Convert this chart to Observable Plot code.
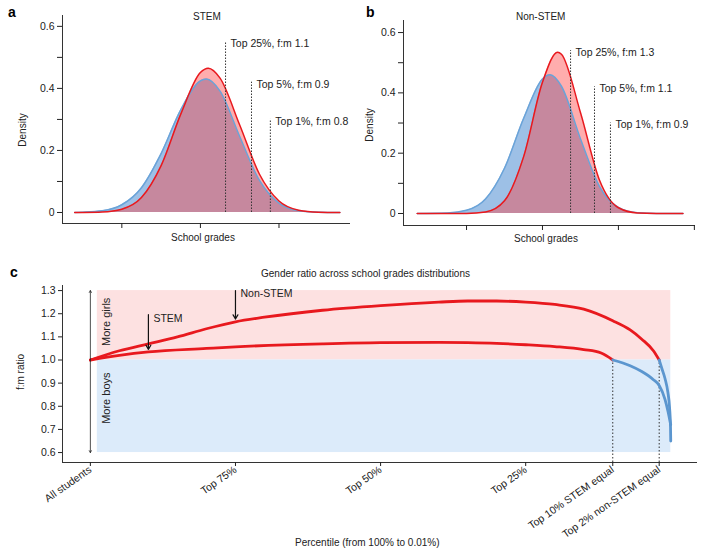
<!DOCTYPE html>
<html><head><meta charset="utf-8">
<script src="https://cdn.jsdelivr.net/npm/d3@7"></script>
<script src="https://cdn.jsdelivr.net/npm/@observablehq/plot@0.6"></script>
<style>
body{margin:0;background:#fff;font-family:"Liberation Sans",Arial,sans-serif;}
#wrap{position:relative;width:717px;height:551px;}
.p{position:absolute;}
.lbl{position:absolute;font-size:10px;color:#222;white-space:nowrap;}
.big{font-weight:bold;font-size:14px;color:#000;}
</style></head><body><div id="wrap"></div>
<script>
// Panel a (STEM) densities
const gradeX_stemGirls = [-3.2,-3,-2.5,-2,-1.5,-1,-0.5,0,0.2,0.5,1,1.5,2,2.5,3,3.55];
const dens_stemGirls   = [0,0.0002,0.0016,0.0106,0.048,0.151,0.317,0.451,0.465,0.433,0.282,0.124,0.037,0.0075,0.001,0];
const gradeX_stemBoys  = [-3.2,-3,-2.5,-2,-1.5,-1,-0.5,0,0.15,0.5,1,1.5,2,2.5,3,3.55];
const dens_stemBoys    = [0,0.001,0.0056,0.025,0.080,0.19,0.331,0.424,0.43,0.391,0.245,0.104,0.030,0.0057,0.0007,0];
// Panel b (Non-STEM) densities
const gradeX_nsGirls = [-3.3,-2.5,-2,-1.5,-1,-0.5,0,0.4,0.5,1,1.5,2,2.5,3,3.7];
const dens_nsGirls   = [0,0,0.0003,0.0049,0.042,0.187,0.435,0.535,0.528,0.335,0.111,0.019,0.0017,0.0001,0];
const gradeX_nsBoys  = [-3.3,-2.5,-2,-1.5,-1,-0.5,0,0.2,0.5,1,1.5,2,2.5,3,3.7];
const dens_nsBoys    = [0,0.0016,0.0105,0.048,0.150,0.314,0.446,0.46,0.422,0.248,0.090,0.020,0.0028,0.0003,0];
// threshold annotations
const stemCutX = [0.64,1.3,1.78], stemCutTop=[0.55,0.42,0.30], stemCutLabel=["Top 25%, f:m 1.1","Top 5%, f:m 0.9","Top 1%, f:m 0.8"];
const nsCutX = [0.74,1.37,1.79], nsCutTop=[0.54,0.42,0.30], nsCutLabel=["Top 25%, f:m 1.3","Top 5%, f:m 1.1","Top 1%, f:m 0.9"];
// Panel c ratios
const nsRedPct   = [100,95,90,85,80,75,70,60,50,40,35,30,25,20,15,10,7,5,3,2];
const nsRedRatio = [1.0,1.04,1.07,1.10,1.135,1.165,1.185,1.215,1.235,1.25,1.255,1.255,1.25,1.24,1.22,1.17,1.13,1.09,1.04,1.0];
const nsBluePct   = [2,1.5,1,0.5,0.2,0.05,0.01];
const nsBlueRatio = [1.0,0.96,0.92,0.86,0.79,0.71,0.65];
const stRedPct   = [100,95,90,80,75,60,50,40,35,30,25,20,15,12,10];
const stRedRatio = [1.0,1.02,1.035,1.05,1.057,1.07,1.075,1.076,1.075,1.072,1.066,1.058,1.045,1.03,1.0];
const stBluePct   = [10,7,5,3,2,1,0.5,0.01];
const stBlueRatio = [1.0,0.975,0.95,0.915,0.89,0.83,0.78,0.72];
const pctTicks = [100,75,50,25,10,2];
const pctTickLabels = ["All students","Top 75%","Top 50%","Top 25%","Top 10% STEM equal","Top 2% non-STEM equal"];

const RED="#e8191e", BLUE="#5b96cf";
const zip=(xs,ys)=>xs.map((x,i)=>({x,y:ys[i]}));
const wrap=document.getElementById("wrap");
function place(el,l,t){el.classList.add("p");el.style.left=l+"px";el.style.top=t+"px";wrap.appendChild(el);}
function label(txt,l,t,cls,rot){const d=document.createElement("div");d.className="lbl "+(cls||"");d.textContent=txt;d.style.left=l+"px";d.style.top=t+"px";if(rot){d.style.transform="translate(-50%,-50%) rotate(-90deg)";}wrap.appendChild(d);return d;}

function densPanel(w,mL,mR,mT,mB,yDom,xDom,xTicks,girls,boys,cutX,cutTop,cutLab){
  const cuts=cutX.map((x,i)=>({x,top:cutTop[i],lab:cutLab[i]}));
  return Plot.plot({width:w,height:250,marginLeft:mL,marginRight:mR,marginTop:mT,marginBottom:mB,
    style:{fontFamily:"Liberation Sans, Arial, sans-serif",fontSize:"10px",color:"#222"},
    x:{domain:xDom,axis:null},y:{domain:yDom,axis:null},
    marks:[
      Plot.areaY(boys,{x:"x",y:"y",fill:"#5b96d6",fillOpacity:0.6,curve:"monotone-x"}),
      Plot.areaY(girls,{x:"x",y:"y",fill:"#ff3b3b",fillOpacity:0.42,curve:"monotone-x"}),
      Plot.line(boys,{x:"x",y:"y",stroke:"#6aa3d8",strokeWidth:1.5,curve:"monotone-x"}),
      Plot.line(girls,{x:"x",y:"y",stroke:RED,strokeWidth:1.5,curve:"monotone-x"}),
      Plot.ruleX(cuts,{x:"x",y1:0,y2:"top",stroke:"#333",strokeDasharray:"1.5,1.5",strokeWidth:1}),
      Plot.text(cuts,{x:"x",y:"top",text:"lab",textAnchor:"start",dx:5,dy:2,fill:"#222",fontSize:10.5}),
      Plot.ruleX([xDom[0]],{y1:yDom[0],y2:yDom[1],stroke:"#333"}),
      Plot.ruleY([yDom[0]],{x1:xDom[0],x2:xDom[1],stroke:"#333"}),
      Plot.axisY({ticks:d3.range(0,0.61,0.1),tickSize:5,tickPadding:3,fontSize:10.5,tickFormat:d=>{const r=Math.round(d*10);return r%2?"":(r===0?"0":(d).toFixed(1));}}),
      Plot.axisX({ticks:xTicks,tickSize:5,tickFormat:()=>"",label:null})
    ]});
}
const svgA=densPanel(360,62,10,15,27,[-0.0355,0.635],[-3.51,3.82],[-2,0,2],zip(gradeX_stemGirls,dens_stemGirls),zip(gradeX_stemBoys,dens_stemBoys),stemCutX,stemCutTop,stemCutLabel);
place(svgA,0,0);
const svgB=densPanel(357,43,22,20,25,[-0.0398,0.64],[-3.66,4.03],[-2,0,2,4],zip(gradeX_nsGirls,dens_nsGirls),zip(gradeX_nsBoys,dens_nsBoys),nsCutX,nsCutTop,nsCutLabel);
place(svgB,360,0);

// Panel c
const yD=[0.557,1.322], xD=[104.8,-4.6];
const svgC=Plot.plot({width:717,height:291,marginLeft:62,marginRight:20,marginTop:25,marginBottom:89,
  style:{fontFamily:"Liberation Sans, Arial, sans-serif",fontSize:"10px",color:"#222"},
  x:{domain:xD,axis:null},y:{domain:yD,axis:null},
  marks:[
    Plot.rectY([{a:98.8,b:0}],{x1:"a",x2:"b",y1:1.0,y2:1.3,fill:"#fde1e1"}),
    Plot.rectY([{a:98.8,b:0}],{x1:"a",x2:"b",y1:0.6,y2:1.0,fill:"#dcebfa"}),
    Plot.ruleX([pctTicks[4],pctTicks[5]],{x:d=>d,y1:yD[0],y2:1.0,stroke:"#333",strokeDasharray:"1.5,2"}),
    Plot.line(zip(nsRedPct,nsRedRatio),{x:"x",y:"y",stroke:RED,strokeWidth:2.8,curve:"monotone-x"}),
    Plot.line(zip(stRedPct,stRedRatio),{x:"x",y:"y",stroke:RED,strokeWidth:2.8,curve:"monotone-x"}),
    Plot.line(zip(nsBluePct,nsBlueRatio),{x:"x",y:"y",stroke:BLUE,strokeWidth:2.8,curve:"monotone-x"}),
    Plot.line(zip(stBluePct,stBlueRatio),{x:"x",y:"y",stroke:BLUE,strokeWidth:2.8,curve:"monotone-x"}),
    Plot.arrow([{x:100,y1:1.0,y2:1.3},{x:100,y1:1.0,y2:0.6}],{x1:"x",x2:"x",y1:"y1",y2:"y2",stroke:"#222",strokeWidth:0.8,headLength:4}),
    Plot.text([{x:97.2,y:1.165,t:"More girls"},{x:97.2,y:0.835,t:"More boys"}],{x:"x",y:"y",text:"t",rotate:-90,fontSize:11,fill:"#222"}),
    Plot.arrow([{x:90,y1:1.196,y2:1.046},{x:75,y1:1.3,y2:1.177}],{x1:"x",x2:"x",y1:"y1",y2:"y2",stroke:"#111",strokeWidth:1.2,headLength:6}),
    Plot.text([{x:90,y:1.18,t:"STEM"},{x:75,y:1.285,t:"Non-STEM"}],{x:"x",y:"y",text:"t",textAnchor:"start",dx:5,fontSize:10.5,fill:"#222"}),
    Plot.ruleX([xD[0]],{y1:yD[0],y2:yD[1],stroke:"#333"}),
    Plot.ruleY([yD[0]],{x1:xD[0],x2:xD[1],stroke:"#333"}),
    Plot.axisY({ticks:d3.range(0.6,1.31,0.1),tickSize:4,tickPadding:3,fontSize:10.5,tickFormat:d3.format(".1f")}),
    Plot.axisX({ticks:pctTicks,tickSize:4,tickPadding:2,tickRotate:-35,fill:"#222",tickFormat:(d)=>pctTickLabels[pctTicks.indexOf(d)],fontSize:10.5,label:null})
  ]});
place(svgC,0,260);

label("a",8,4,"big");label("b",366,4,"big");label("c",10,264,"big");
label("STEM",193,11);label("Non-STEM",516,11);
label("Density",22,130,"",true);label("Density",369,125,"",true);
label("School grades",171,232);label("School grades",514,233);
label("Gender ratio across school grades distributions",261,268);
label("f:m ratio",20,372,"",true);
label("Percentile (from 100% to 0.01%)",295,537);
</script></body></html>
